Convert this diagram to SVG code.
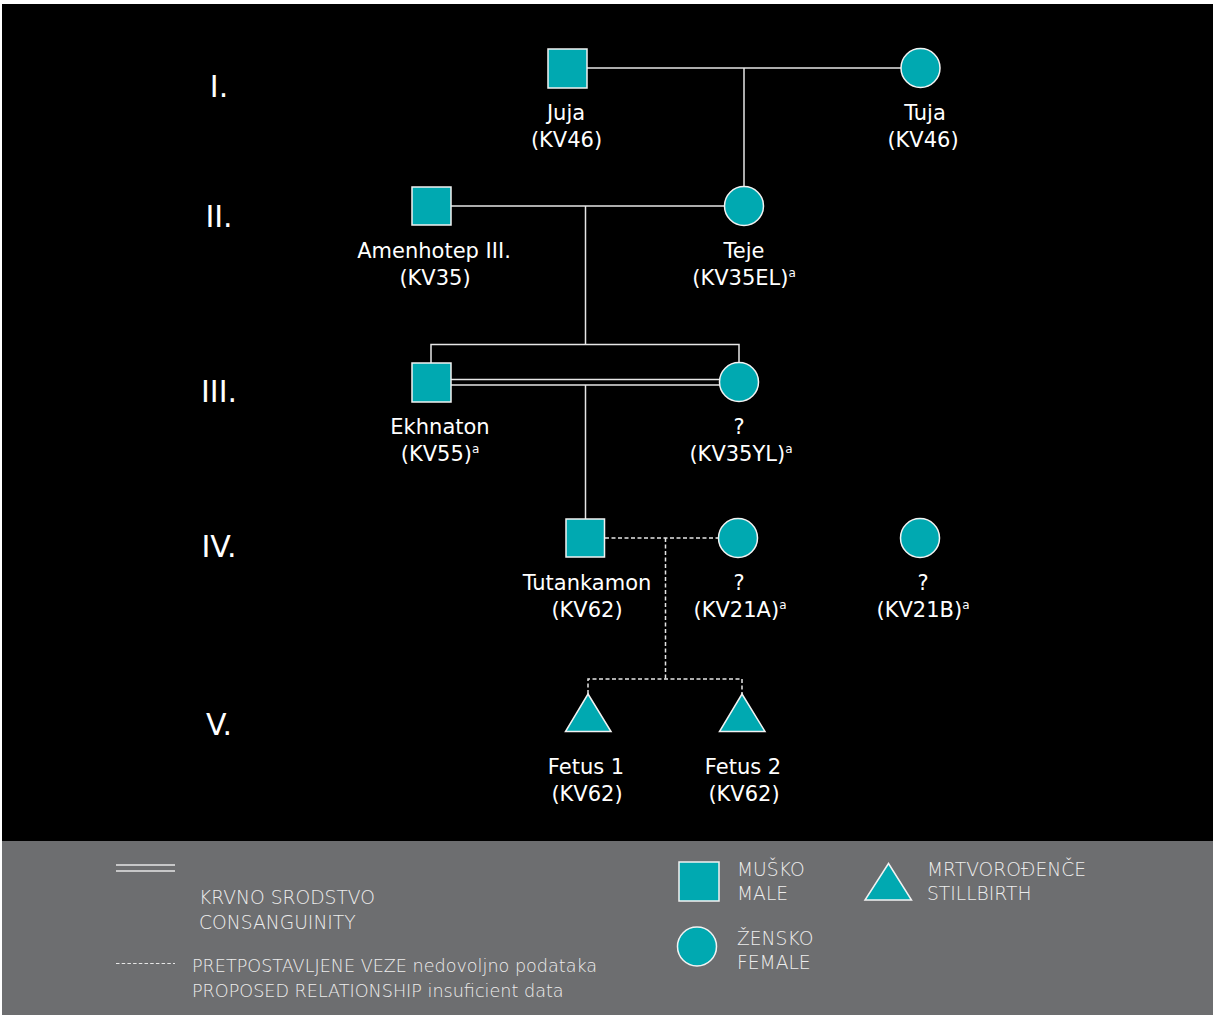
<svg xmlns="http://www.w3.org/2000/svg" width="1213" height="1015" viewBox="0 0 1213 1015">
<style>
.bg{fill:#000}
.leg{fill:#6d6e70}
.m,.f,.s{fill:#00a9b1;stroke:#f2f2f2;stroke-width:1.5}
.ln{stroke:#e6e6e6;stroke-width:1.5;fill:none}
.dl{stroke:#e6e6e6;stroke-width:1.5;fill:none;stroke-dasharray:4 2.5}
.t{font-family:"DejaVu Sans","Liberation Sans",sans-serif;font-size:21px;fill:#fff;text-anchor:middle}
.sup{font-size:12px}
.r{font-family:"DejaVu Sans","Liberation Sans",sans-serif;font-size:30px;fill:#fff;text-anchor:middle}
.lt{font-family:"DejaVu Sans","Liberation Sans",sans-serif;font-size:18.7px;font-weight:300;fill:#ededed}
</style>
<rect x="0" y="0" width="1213" height="1015" fill="#fff"/>
<rect class="bg" x="2" y="4" width="1211" height="837"/>
<rect class="leg" x="2" y="841" width="1211" height="174"/>

<g id="generations">
<text class="r" x="219" y="97">I.</text>
<text class="r" x="219" y="227">II.</text>
<text class="r" x="219" y="402">III.</text>
<text class="r" x="219" y="557">IV.</text>
<text class="r" x="219" y="735">V.</text>
</g>

<g id="connectors">
<line class="ln" x1="587" y1="68" x2="901" y2="68"/>
<line class="ln" x1="744" y1="68" x2="744" y2="186.5"/>
<line class="ln" x1="451" y1="206" x2="724.5" y2="206"/>
<line class="ln" x1="585.5" y1="206" x2="585.5" y2="344.5"/>
<polyline class="ln" points="431,363 431,344.5 739,344.5 739,362.5"/>
<line class="ln" x1="451" y1="379.5" x2="720" y2="379.5"/>
<line class="ln" x1="451" y1="385" x2="720" y2="385"/>
<line class="ln" x1="585.5" y1="385" x2="585.5" y2="519"/>
<line class="dl" x1="605" y1="538" x2="718.5" y2="538"/>
<line class="dl" x1="665.5" y1="538" x2="665.5" y2="679"/>
<polyline class="dl" points="588,694 588,679 742,679 742,694"/>
</g>

<g id="juja">
<rect class="m" x="548" y="49" width="39" height="39"/>
<text class="t" x="566" y="120">Juja</text>
<text class="t" x="566.5" y="147">(KV46)</text>
</g>
<g id="tuja">
<circle class="f" cx="920.5" cy="68" r="19.5"/>
<text class="t" x="925" y="120">Tuja</text>
<text class="t" x="923" y="147">(KV46)</text>
</g>
<g id="amenhotep">
<rect class="m" x="412" y="187" width="39" height="38"/>
<text class="t" x="434" y="258">Amenhotep III.</text>
<text class="t" x="435" y="285">(KV35)</text>
</g>
<g id="teje">
<circle class="f" cx="744" cy="206" r="19.5"/>
<text class="t" x="744" y="258">Teje</text>
<text class="t" x="744" y="285">(KV35EL)<tspan class="sup" dy="-8">a</tspan></text>
</g>
<g id="ekhnaton">
<rect class="m" x="412" y="363" width="39" height="39"/>
<text class="t" x="440" y="434">Ekhnaton</text>
<text class="t" x="440" y="461">(KV55)<tspan class="sup" dy="-8">a</tspan></text>
</g>
<g id="kv35yl">
<circle class="f" cx="739" cy="382" r="19.5"/>
<text class="t" x="739" y="434">?</text>
<text class="t" x="741" y="461">(KV35YL)<tspan class="sup" dy="-8">a</tspan></text>
</g>
<g id="tutankamon">
<rect class="m" x="566" y="519" width="38.5" height="38"/>
<text class="t" x="587" y="590">Tutankamon</text>
<text class="t" x="587" y="617">(KV62)</text>
</g>
<g id="kv21a">
<circle class="f" cx="738" cy="538" r="19.5"/>
<text class="t" x="739" y="590">?</text>
<text class="t" x="740" y="617">(KV21A)<tspan class="sup" dy="-8">a</tspan></text>
</g>
<g id="kv21b">
<circle class="f" cx="920" cy="538" r="19.5"/>
<text class="t" x="923" y="590">?</text>
<text class="t" x="923" y="617">(KV21B)<tspan class="sup" dy="-8">a</tspan></text>
</g>
<g id="fetus1">
<polygon class="s" points="588,694 611,731.5 565.5,731.5"/>
<text class="t" x="586" y="774">Fetus 1</text>
<text class="t" x="587" y="801">(KV62)</text>
</g>
<g id="fetus2">
<polygon class="s" points="742,694 765,731.5 719.5,731.5"/>
<text class="t" x="743" y="774">Fetus 2</text>
<text class="t" x="744" y="801">(KV62)</text>
</g>

<g id="legend">
<line class="ln" x1="116" y1="865" x2="175" y2="865"/>
<line class="ln" x1="116" y1="871" x2="175" y2="871"/>
<text class="lt" x="199" y="904">KRVNO SRODSTVO</text>
<text class="lt" x="199" y="929">CONSANGUINITY</text>
<line class="dl" x1="116" y1="963.5" x2="175" y2="963.5" style="stroke-dasharray:3.5 2.2;stroke-width:1.2"/>
<text class="lt" x="192" y="972" style="font-size:17.6px">PRETPOSTAVLJENE VEZE nedovoljno podataka</text>
<text class="lt" x="192" y="997" style="font-size:17.6px">PROPOSED RELATIONSHIP insuficient data</text>
<rect class="m" x="679" y="862" width="40" height="39"/>
<text class="lt" x="737" y="876">MUŠKO</text>
<text class="lt" x="737" y="900">MALE</text>
<circle class="f" cx="697" cy="946.5" r="19.5"/>
<text class="lt" x="737" y="945">ŽENSKO</text>
<text class="lt" x="737" y="969">FEMALE</text>
<polygon class="s" points="888.5,863.5 911.5,900 865,900"/>
<text class="lt" x="927" y="876">MRTVOROĐENČE</text>
<text class="lt" x="927" y="900">STILLBIRTH</text>
</g>
</svg>
